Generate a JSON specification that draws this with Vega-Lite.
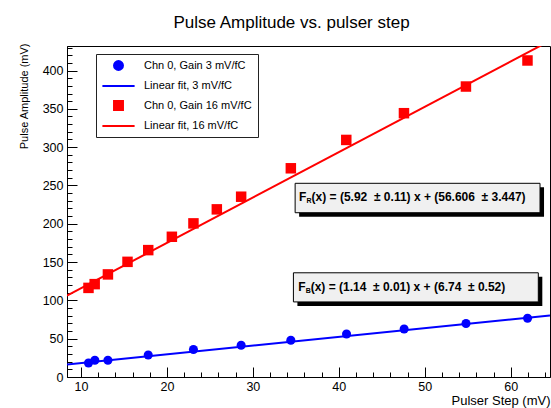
{
  "$schema": "https://vega.github.io/schema/vega-lite/v6.json",
  "width": 483,
  "height": 331,
  "autosize": {"type": "none"},
  "padding": {"left": 67, "top": 46, "right": 1, "bottom": 31},
  "background": "white",
  "title": {"text": "Pulse Amplitude vs. pulser step", "font": "Liberation Sans", "fontSize": 17, "fontWeight": "normal", "anchor": "middle", "frame": "group", "dx": -17, "offset": -2, "baseline": "alphabetic", "color": "black"},
  "config": {
    "view": {"stroke": "black", "strokeWidth": 1},
    "axis": {"grid": false, "domainColor": "black", "tickColor": "black", "labelColor": "black", "titleColor": "black", "labelFont": "Liberation Sans", "titleFont": "Liberation Sans", "titleFontWeight": "normal", "labelFontSize": 12.5, "titleFontSize": 11, "labelOverlap": false, "labelFlush": false}
  },
  "resolve": {"axis": {"x": "independent", "y": "independent"}},
  "datasets": {
    "pts": [
      {"series": "Chn 0, Gain 3 mV/fC", "step": 10.88, "amp": 18.3},
      {"series": "Chn 0, Gain 3 mV/fC", "step": 11.62, "amp": 21.8},
      {"series": "Chn 0, Gain 3 mV/fC", "step": 13.14, "amp": 21.8},
      {"series": "Chn 0, Gain 3 mV/fC", "step": 17.83, "amp": 28.8},
      {"series": "Chn 0, Gain 3 mV/fC", "step": 23.09, "amp": 35.8},
      {"series": "Chn 0, Gain 3 mV/fC", "step": 28.64, "amp": 41.4},
      {"series": "Chn 0, Gain 3 mV/fC", "step": 34.42, "amp": 48.0},
      {"series": "Chn 0, Gain 3 mV/fC", "step": 40.9, "amp": 56.2},
      {"series": "Chn 0, Gain 3 mV/fC", "step": 47.6, "amp": 62.7},
      {"series": "Chn 0, Gain 3 mV/fC", "step": 54.8, "amp": 69.8},
      {"series": "Chn 0, Gain 3 mV/fC", "step": 61.96, "amp": 76.7},
      {"series": "Chn 0, Gain 16 mV/fC", "step": 10.88, "amp": 116.3},
      {"series": "Chn 0, Gain 16 mV/fC", "step": 11.6, "amp": 121.2},
      {"series": "Chn 0, Gain 16 mV/fC", "step": 13.14, "amp": 133.9},
      {"series": "Chn 0, Gain 16 mV/fC", "step": 15.42, "amp": 150.3},
      {"series": "Chn 0, Gain 16 mV/fC", "step": 17.83, "amp": 165.6},
      {"series": "Chn 0, Gain 16 mV/fC", "step": 20.58, "amp": 183.0},
      {"series": "Chn 0, Gain 16 mV/fC", "step": 23.09, "amp": 200.5},
      {"series": "Chn 0, Gain 16 mV/fC", "step": 25.81, "amp": 218.8},
      {"series": "Chn 0, Gain 16 mV/fC", "step": 28.64, "amp": 235.3},
      {"series": "Chn 0, Gain 16 mV/fC", "step": 34.42, "amp": 272.4},
      {"series": "Chn 0, Gain 16 mV/fC", "step": 40.87, "amp": 309.4},
      {"series": "Chn 0, Gain 16 mV/fC", "step": 47.58, "amp": 344.3},
      {"series": "Chn 0, Gain 16 mV/fC", "step": 54.79, "amp": 379.1},
      {"series": "Chn 0, Gain 16 mV/fC", "step": 61.95, "amp": 413.1}
    ],
    "fits": [
      {"series": "Linear fit, 3 mV/fC", "step": 8.38, "amp": 16.29},
      {"series": "Linear fit, 3 mV/fC", "step": 64.57, "amp": 80.35},
      {"series": "Linear fit, 16 mV/fC", "step": 8.38, "amp": 106.2},
      {"series": "Linear fit, 16 mV/fC", "step": 64.57, "amp": 438.9}
    ],
    "boxes": [
      {"x1": 34.92, "x2": 63.41, "y1": 214.4, "y2": 252.8, "tx": 35.38, "ty": 234.5, "sub": "R", "eq": "(x) = (5.92\u00a0 ± 0.11) x + (56.606\u00a0 ± 3.447)"},
      {"x1": 34.72, "x2": 63.21, "y1": 98.0, "y2": 136.0, "tx": 35.27, "ty": 116.9, "sub": "B", "eq": "(x) = (1.14\u00a0 ± 0.01) x + (6.74\u00a0 ± 0.52)"}
    ]
  },
  "layer": [
    {
      "data": {"name": "fits"},
      "mark": {"type": "line", "strokeWidth": 2, "clip": true},
      "encoding": {
        "x": {"field": "step", "type": "quantitative", "title": "Pulser Step (mV)",
          "scale": {"domain": [8.38, 64.57], "nice": false, "zero": false},
          "axis": {
            "orient": "bottom",
            "values": [10, 20, 30, 40, 50, 60],
            "tickSize": -10,
            "labelPadding": 13,
            "labelOverlap": false,
            "labelFlush": false,
            "titleAnchor": "end", "titleAlign": "right", "titleBaseline": "alphabetic", "titleX": 483, "titleY": 27.5, "titleFontSize": 13
          }
        },
        "y": {"field": "amp", "type": "quantitative", "title": "Pulse Amplitude (mV)",
          "scale": {"domain": [0, 432], "nice": false, "zero": false},
          "axis": {
            "orient": "left",
            "values": [0, 50, 100, 150, 200, 250, 300, 350, 400],
            "tickSize": -10,
            "labelPadding": 14,
            "labelOverlap": false,
            "labelFlush": false,
            "titleAnchor": "end", "titleAlign": "right", "titleBaseline": "middle", "titleAngle": 270, "titleX": -43, "titleY": -3
          }
        },
        "color": {"field": "series", "type": "nominal",
          "scale": {"domain": ["Chn 0, Gain 3 mV/fC", "Linear fit, 3 mV/fC", "Chn 0, Gain 16 mV/fC", "Linear fit, 16 mV/fC"], "range": ["#0000ff", "#0000ff", "#ff0000", "#ff0000"]},
          "legend": {"title": null, "orient": "none", "legendX": 29, "legendY": 8, "padding": 6, "rowPadding": 5.5, "strokeColor": "#222222", "fillColor": "white", "labelFont": "Liberation Sans", "labelFontSize": 11, "labelColor": "black", "symbolSize": 80, "symbolOffset": 11, "labelOffset": 20, "symbolStrokeWidth": 2,
            "labelExpr": "datum.label + '\u00a0\u00a0\u00a0\u00a0\u00a0\u00a0\u00a0\u00a0\u00a0\u00a0\u00a0'",
            "encode": {"symbols": {"update": {"fill": {"scale": "color", "field": "value"}, "stroke": {"signal": "indexof(datum.label, 'Linear') >= 0 ? scale('color', datum.value) : 'transparent'"}, "opacity": {"value": 1}, "size": {"value": 80}}}}}
        }
      }
    },
    {
      "data": {"name": "pts"},
      "mark": {"type": "point", "filled": true, "opacity": 1},
      "encoding": {
        "x": {"field": "step", "type": "quantitative", "scale": {"domain": [8.38, 64.57], "nice": false, "zero": false},
          "axis": {"orient": "bottom", "title": null, "labels": false, "domain": false, "tickSize": -5,
            "values": [12,14,16,18,22,24,26,28,32,34,36,38,42,44,46,48,52,54,56,58,62,64]}},
        "y": {"field": "amp", "type": "quantitative", "scale": {"domain": [0, 432], "nice": false, "zero": false},
          "axis": {"orient": "left", "title": null, "labels": false, "domain": false, "tickSize": -5,
            "values": [10,20,30,40,60,70,80,90,110,120,130,140,160,170,180,190,210,220,230,240,260,270,280,290,310,320,330,340,360,370,380,390,410,420,430]}},
        "color": {"field": "series", "type": "nominal",
          "scale": {"domain": ["Chn 0, Gain 3 mV/fC", "Linear fit, 3 mV/fC", "Chn 0, Gain 16 mV/fC", "Linear fit, 16 mV/fC"], "range": ["#0000ff", "#0000ff", "#ff0000", "#ff0000"]}},
        "shape": {"field": "series", "type": "nominal",
          "scale": {"domain": ["Chn 0, Gain 3 mV/fC", "Linear fit, 3 mV/fC", "Chn 0, Gain 16 mV/fC", "Linear fit, 16 mV/fC"], "range": ["circle", "M-3.6,0H3.6", "square", "M-3.6,0H3.6"]}},
        "size": {"condition": {"test": "datum.series === 'Chn 0, Gain 3 mV/fC'", "value": 82}, "value": 110}
      }
    },
    {
      "data": {"name": "boxes"},
      "mark": {"type": "rect", "color": "black", "xOffset": 4, "x2Offset": 4, "yOffset": 4, "y2Offset": 4},
      "encoding": {
        "x": {"field": "x1", "type": "quantitative", "axis": null, "scale": {"domain": [8.38, 64.57], "nice": false, "zero": false}},
        "x2": {"field": "x2"},
        "y": {"field": "y1", "type": "quantitative", "axis": null, "scale": {"domain": [0, 432], "nice": false, "zero": false}},
        "y2": {"field": "y2"}
      }
    },
    {
      "data": {"name": "boxes"},
      "mark": {"type": "rect", "fill": "#f0f0f0", "stroke": "black", "strokeWidth": 1},
      "encoding": {
        "x": {"field": "x1", "type": "quantitative", "axis": null, "scale": {"domain": [8.38, 64.57], "nice": false, "zero": false}},
        "x2": {"field": "x2"},
        "y": {"field": "y1", "type": "quantitative", "axis": null, "scale": {"domain": [0, 432], "nice": false, "zero": false}},
        "y2": {"field": "y2"}
      }
    },
    {
      "data": {"name": "boxes"},
      "mark": {"type": "text", "align": "left", "baseline": "middle", "font": "Liberation Sans", "fontWeight": "bold", "fontSize": 12, "color": "black"},
      "encoding": {
        "x": {"field": "tx", "type": "quantitative", "axis": null, "scale": {"domain": [8.38, 64.57], "nice": false, "zero": false}},
        "y": {"field": "ty", "type": "quantitative", "axis": null, "scale": {"domain": [0, 432], "nice": false, "zero": false}},
        "text": {"value": "F"}
      }
    },
    {
      "data": {"name": "boxes"},
      "mark": {"type": "text", "align": "left", "baseline": "middle", "font": "Liberation Sans", "fontWeight": "bold", "fontSize": 7, "color": "black", "dx": 7.5, "dy": 3.5},
      "encoding": {
        "x": {"field": "tx", "type": "quantitative", "axis": null, "scale": {"domain": [8.38, 64.57], "nice": false, "zero": false}},
        "y": {"field": "ty", "type": "quantitative", "axis": null, "scale": {"domain": [0, 432], "nice": false, "zero": false}},
        "text": {"field": "sub"}
      }
    },
    {
      "data": {"name": "boxes"},
      "mark": {"type": "text", "align": "left", "baseline": "middle", "font": "Liberation Sans", "fontWeight": "bold", "fontSize": 12, "color": "black", "dx": 12.5},
      "encoding": {
        "x": {"field": "tx", "type": "quantitative", "axis": null, "scale": {"domain": [8.38, 64.57], "nice": false, "zero": false}},
        "y": {"field": "ty", "type": "quantitative", "axis": null, "scale": {"domain": [0, 432], "nice": false, "zero": false}},
        "text": {"field": "eq"}
      }
    }
  ]
}
